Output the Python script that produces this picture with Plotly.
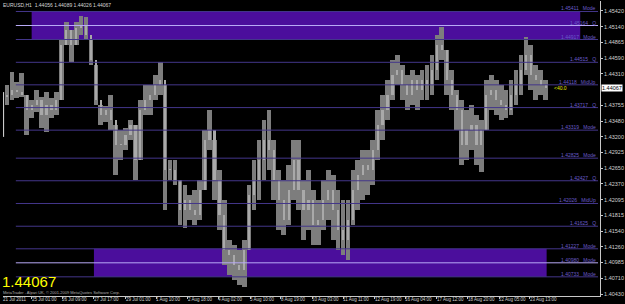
import plotly.graph_objects as go

# ---------------- data ----------------
symbol_title = "EURUSD,H1  1.44056 1.44089 1.44026 1.44067"
last_price = 1.44067

# 5-hour buckets of the H1 series (bar index = 5*k + 2)
high = [1.4411, 1.4434, 1.4417, 1.4433, 1.4394, 1.4385, 1.4403, 1.4390, 1.4399, 1.4389,
        1.4399, 1.4491, 1.4523, 1.4508, 1.4523, 1.4533, 1.4531, 1.4491, 1.4447, 1.4376,
        1.4375, 1.4394, 1.4341, 1.4332, 1.4336, 1.4350, 1.4341, 1.4385, 1.4411, 1.4411,
        1.4429, 1.4452, 1.4411, 1.4279, 1.4279, 1.4244, 1.4235, 1.4218, 1.4226, 1.4244,
        1.4332, 1.4367, 1.4315, 1.4262, 1.4209, 1.4138, 1.4129, 1.4121, 1.4138, 1.4235,
        1.4279, 1.4315, 1.4350, 1.4367, 1.4315, 1.4262, 1.4244, 1.4270, 1.4315, 1.4315,
        1.4244, 1.4262, 1.4226, 1.4209, 1.4244, 1.4262, 1.4253, 1.4226, 1.4209, 1.4209,
        1.4262, 1.4279, 1.4297, 1.4297, 1.4315, 1.4367, 1.4394, 1.4420, 1.4456, 1.4464,
        1.4447, 1.4429, 1.4438, 1.4429, 1.4438, 1.4447, 1.4464, 1.4500, 1.4514, 1.4473,
        1.4438, 1.4403, 1.4385, 1.4367, 1.4376, 1.4359, 1.4350, 1.4420, 1.4429, 1.4420,
        1.4411, 1.4403, 1.4420, 1.4438, 1.4464, 1.4496, 1.4482, 1.4447, 1.4438, 1.4420]
low = [1.4376, 1.4385, 1.4389, 1.4390, 1.4323, 1.4353, 1.4364, 1.4336, 1.4329, 1.4353,
       1.4359, 1.4385, 1.4482, 1.4452, 1.4482, 1.4500, 1.4491, 1.4447, 1.4376, 1.4341,
       1.4346, 1.4332, 1.4253, 1.4279, 1.4297, 1.4315, 1.4244, 1.4279, 1.4359, 1.4359,
       1.4385, 1.4394, 1.4191, 1.4244, 1.4235, 1.4165, 1.4160, 1.4174, 1.4165, 1.4174,
       1.4226, 1.4297, 1.4209, 1.4156, 1.4094, 1.4077, 1.4068, 1.4059, 1.4056, 1.4121,
       1.4191, 1.4209, 1.4244, 1.4262, 1.4209, 1.4156, 1.4147, 1.4165, 1.4209, 1.4191,
       1.4138, 1.4156, 1.4129, 1.4129, 1.4156, 1.4174, 1.4138, 1.4121, 1.4112, 1.4103,
       1.4165, 1.4191, 1.4209, 1.4218, 1.4235, 1.4279, 1.4315, 1.4350, 1.4385, 1.4411,
       1.4385, 1.4367, 1.4376, 1.4367, 1.4385, 1.4385, 1.4394, 1.4420, 1.4456, 1.4394,
       1.4367, 1.4332, 1.4270, 1.4279, 1.4297, 1.4270, 1.4258, 1.4332, 1.4367, 1.4359,
       1.4350, 1.4353, 1.4359, 1.4376, 1.4394, 1.4429, 1.4403, 1.4385, 1.4394, 1.4385]
close = [1.4394, 1.4403, 1.4399, 1.4394, 1.4367, 1.4376, 1.4385, 1.4359, 1.4376, 1.4367,
         1.4385, 1.4482, 1.4508, 1.4482, 1.4512, 1.4517, 1.4500, 1.4456, 1.4385, 1.4359,
         1.4367, 1.4350, 1.4306, 1.4306, 1.4323, 1.4341, 1.4279, 1.4367, 1.4385, 1.4394,
         1.4411, 1.4420, 1.4262, 1.4262, 1.4244, 1.4191, 1.4209, 1.4191, 1.4182, 1.4226,
         1.4315, 1.4332, 1.4244, 1.4182, 1.4121, 1.4112, 1.4094, 1.4085, 1.4121, 1.4218,
         1.4244, 1.4279, 1.4315, 1.4297, 1.4244, 1.4209, 1.4174, 1.4226, 1.4279, 1.4226,
         1.4191, 1.4209, 1.4165, 1.4174, 1.4209, 1.4226, 1.4191, 1.4156, 1.4138, 1.4174,
         1.4226, 1.4253, 1.4270, 1.4262, 1.4297, 1.4341, 1.4367, 1.4394, 1.4429, 1.4438,
         1.4411, 1.4394, 1.4420, 1.4403, 1.4420, 1.4411, 1.4438, 1.4482, 1.4473, 1.4420,
         1.4394, 1.4367, 1.4306, 1.4332, 1.4341, 1.4306, 1.4332, 1.4394, 1.4403, 1.4385,
         1.4376, 1.4367, 1.4394, 1.4411, 1.4438, 1.4464, 1.4429, 1.4420, 1.4411, 1.44067]
first_open = 1.4390

# horizontal levels
level_prices = [1.45411, 1.45164, 1.44917, 1.44515, 1.44118, 1.43717, 1.43319,
                1.42825, 1.42427, 1.42026, 1.41625, 1.41227, 1.40980, 1.40733]
level_names = ["Mode", "Q", "Mode", "Q", "MidUp", "Q", "Mode",
               "Mode", "Q", "MidUp", "Q", "Mode", "Mode", "Mode"]
highlight_levels = [1.45164, 1.40980]
zones = [  # (start bar, end bar, top price, bottom price)
    (27, 582, 1.45411, 1.44917),
    (90, 548, 1.41227, 1.40733),
]
level_start_bar, level_end_bar = 11, 600

# price scale ticks
price_ticks = [1.45420, 1.45140, 1.44865, 1.44590, 1.44310, 1.43755, 1.43480,
               1.43200, 1.42925, 1.42650, 1.42370, 1.42095, 1.41815, 1.41540,
               1.41260, 1.40985, 1.40710, 1.40430]

# time scale labels (bar index, text)
time_ticks = [-2, 27, 58, 90, 122, 153, 185, 216, 248, 279, 311, 342, 374,
              405, 437, 468, 500, 531]
time_labels = ["21 Jul 2011", "25 Jul 01:00", "26 Jul 09:00", "27 Jul 17:00",
               "29 Jul 01:00", "1 Aug 10:00", "2 Aug 18:00", "4 Aug 02:00",
               "5 Aug 10:00", "8 Aug 19:00", "10 Aug 03:00", "11 Aug 11:00",
               "12 Aug 19:00", "16 Aug 04:00", "17 Aug 12:00", "18 Aug 20:00",
               "22 Aug 05:00", "23 Aug 13:00"]

# left-edge marker range (price)
marker_top, marker_bottom = 1.4399, 1.4320

# ---------------- figure ----------------
x = [5 * k + 2 for k in range(len(close))]
opens = [first_open] + close[:-1]

LINE_C = "#43368a"
ZONE_C = "#4b0e9c"
HL_C = "#b8aaf6"
FONT = "Liberation Sans, Arial, sans-serif"

fig = go.Figure()
# full high-low range of each bucket
fig.add_trace(go.Bar(
    x=x, base=low, y=[h - l for h, l in zip(high, low)], width=4.8,
    marker=dict(color="#7d7d7d", line=dict(width=0)),
    showlegend=False, hoverinfo="skip"))
# open-close body of each bucket
body_lo = [min(o, c) for o, c in zip(opens, close)]
body_h = [max(abs(c - o), 0.00008) for o, c in zip(opens, close)]
fig.add_trace(go.Bar(
    x=x, base=body_lo, y=body_h, width=2.2,
    marker=dict(color="#a9a9a9", line=dict(width=0)),
    showlegend=False, hoverinfo="skip"))

shapes = []
for (x0, x1, y0, y1) in zones:
    shapes.append(dict(type="rect", xref="x", yref="y", x0=x0, x1=x1, y0=y0, y1=y1,
                       fillcolor=ZONE_C, line=dict(width=0), layer="below"))
annotations = []
for p, n in zip(level_prices, level_names):
    c = HL_C if p in highlight_levels else LINE_C
    shapes.append(dict(type="line", xref="x", yref="y", x0=level_start_bar,
                       x1=level_end_bar, y0=p, y1=p, line=dict(color=c, width=1),
                       layer="above"))
    annotations.append(dict(x=level_end_bar, y=p, xref="x", yref="y",
                            text=f"{p:.5f}&nbsp;&nbsp;&nbsp;{n}", showarrow=False,
                            xanchor="right", yanchor="bottom", yshift=-2,
                            font=dict(size=5, color="#6a5cc8", family=FONT)))
shapes.append(dict(type="line", xref="paper", yref="y", x0=0.001, x1=0.001,
                   y0=marker_bottom, y1=marker_top,
                   line=dict(color="#e0e0e0", width=1), layer="above"))

for tv, tl in zip(time_ticks, time_labels):
    annotations.append(dict(x=tv, y=0, xref="x", yref="paper", text=tl,
                            showarrow=False, xanchor="left", yanchor="top",
                            xshift=-2, yshift=1,
                            font=dict(size=4.5, color="#d0d0d0", family=FONT)))

annotations += [
    dict(x=0, y=1, xref="paper", yref="paper", text=symbol_title, showarrow=False,
         xanchor="left", yanchor="top", xshift=-2, yshift=1,
         font=dict(size=5, color="#d8d8d8", family=FONT)),
    dict(x=0, y=0.05, xref="paper", yref="paper", text=f"{last_price:.5f}",
         showarrow=False, xanchor="left", yanchor="middle", xshift=-3,
         font=dict(size=15, color="#ffff00", family=FONT)),
    dict(x=0, y=0.0, xref="paper", yref="paper",
         text="MetaTrader - Alpari UK, © 2001-2009 MetaQuotes Software Corp.",
         showarrow=False, xanchor="left", yanchor="bottom", xshift=-2, yshift=-1,
         font=dict(size=4, color="#b0b0b0", family=FONT)),
    dict(x=1, y=last_price, xref="paper", yref="y", text=f"{last_price:.5f}",
         showarrow=False, xanchor="left", yanchor="middle", bgcolor="#ffffff",
         borderpad=0, xshift=1,
         font=dict(size=5.5, color="#000000", family=FONT)),
    dict(x=553, y=last_price, xref="x", yref="y", text="&lt;40.0",
         showarrow=False, xanchor="left", yanchor="middle",
         font=dict(size=5, color="#e8e800", family=FONT)),
]

fig.update_layout(
    width=625, height=304,
    margin=dict(l=3, r=18, t=1, b=8),
    paper_bgcolor="#000000", plot_bgcolor="#000000",
    shapes=shapes, annotations=annotations, barmode="overlay", bargap=0,
    xaxis=dict(range=[-2, 602], showgrid=False, zeroline=False, showline=True,
               linecolor="#c8c8c8", linewidth=1,
               tickvals=time_ticks[1:], ticks="outside", ticklen=2,
               tickcolor="#c8c8c8", showticklabels=False),
    yaxis=dict(range=[1.40395, 1.45596], side="right", showgrid=False,
               zeroline=False, showline=True, linecolor="#c8c8c8", linewidth=1,
               tickvals=price_ticks, ticktext=[f"{v:.5f}" for v in price_ticks],
               ticks="outside", ticklen=2, tickcolor="#c8c8c8",
               tickfont=dict(size=5.5, color="#d0d0d0", family=FONT)),
)

fig.write_html("out.html")
